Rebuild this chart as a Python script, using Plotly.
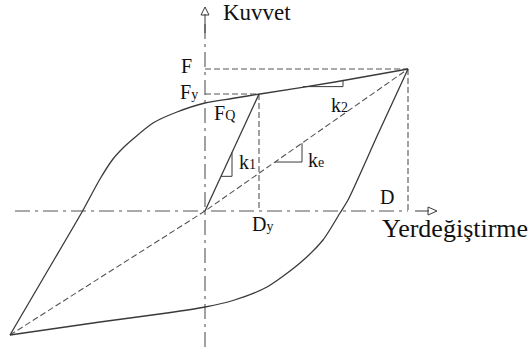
import plotly.graph_objects as go

# ---- values (displacement, force; origin at axes crossing) ----
D_max, F_max = 203, 142          # peak point (D, F)
D_y, F_y = 54, 117               # yield point (Dy, Fy)
F_Q = 108                        # characteristic strength (intercept)
D_min, F_min = -195, -124        # opposite peak

upper_x = [-195, -159, -123, -105, -92, -82, -72, -52, -28, 0, 27, 55, 130, 203]
upper_y = [-124, -62.5, -1, 32, 52, 63, 72, 88, 99, 108, 112.5, 117, 129, 142]

lower_x = [203, 173, 143, 135, 118, 95, 62, 28, 0, -38, -105, -195]
lower_y = [142, 77, 11, -2, -29, -52, -76, -89.5, -96, -102, -111, -124]

elastic_x = [0, D_y]
elastic_y = [0, F_y]

secant_x = [D_min, 0, D_max]
secant_y = [F_min, 0, F_max]

# axis extents
x_axis = [-190, D_max]
y_axis = [-136, 191]

LINE = "#3a3a3a"
DASH_C = "#555555"
TXT = "#111111"
FONT = "Liberation Serif"

fig = go.Figure()

# axes (dash-dot)
fig.add_trace(go.Scatter(x=x_axis, y=[0, 0], mode="lines",
                         line=dict(color=DASH_C, width=1.1, dash="15px,5px,3px,5px")))
fig.add_trace(go.Scatter(x=[0, 0], y=y_axis, mode="lines",
                         line=dict(color=DASH_C, width=1.1, dash="15px,5px,3px,5px")))

# dashed guide lines
dash_style = dict(color=DASH_C, width=1.1, dash="6px,3px")
fig.add_trace(go.Scatter(x=[0, D_max], y=[F_max, F_max], mode="lines", line=dash_style))
fig.add_trace(go.Scatter(x=[D_max, D_max], y=[F_max, 0], mode="lines", line=dash_style))
fig.add_trace(go.Scatter(x=[0, D_y], y=[F_y, F_y], mode="lines", line=dash_style))
fig.add_trace(go.Scatter(x=[D_y, D_y], y=[F_y, 0], mode="lines", line=dash_style))
fig.add_trace(go.Scatter(x=secant_x, y=secant_y, mode="lines", line=dash_style))

# hysteresis loop
fig.add_trace(go.Scatter(x=upper_x, y=upper_y, mode="lines", line_shape="spline",
                         line=dict(color=LINE, width=1.3, smoothing=0.7)))
fig.add_trace(go.Scatter(x=lower_x, y=lower_y, mode="lines", line_shape="spline",
                         line=dict(color=LINE, width=1.3, smoothing=0.7)))
# elastic branch k1
fig.add_trace(go.Scatter(x=elastic_x, y=elastic_y, mode="lines",
                         line=dict(color=LINE, width=1.3)))

shapes = []
# slope triangles (built from the line slopes)
def tri(x1, x2, slope, x_at, y_at):
    ya = y_at + slope * (x1 - x_at)
    yb = y_at + slope * (x2 - x_at)
    return dict(type="path", path=f"M{x1},{ya} L{x2},{ya} L{x2},{yb}",
                line=dict(color=LINE, width=1), xref="x", yref="y")

k1 = F_y / D_y
ke = F_max / D_max
k2 = (F_max - F_y) / (D_max - D_y)
shapes.append(tri(16, 27, k1, 0, 0))
shapes.append(tri(70, 97, ke, 0, 0))
shapes.append(tri(98, 138, k2, D_y, F_y))

# arrows (open heads)
ax_end = 232
shapes.append(dict(type="line", x0=210, y0=0, x1=ax_end - 8, y1=0,
                   line=dict(color=LINE, width=1)))
shapes.append(dict(type="path", path=f"M{ax_end-9},-4 L{ax_end},0 L{ax_end-9},4 Z",
                   line=dict(color=LINE, width=1)))
ay_end = 204
shapes.append(dict(type="line", x0=0, y0=178, x1=0, y1=ay_end - 7,
                   line=dict(color=LINE, width=1)))
shapes.append(dict(type="path", path=f"M-4,{ay_end-8} L0,{ay_end} L4,{ay_end-8} Z",
                   line=dict(color=LINE, width=1)))

ann = []
def label(text, x, y, size=20, xanchor="center"):
    ann.append(dict(text=text, x=x, y=y, xref="x", yref="y", showarrow=False,
                    xanchor=xanchor, yanchor="middle",
                    font=dict(family=FONT, size=size, color=TXT)))

def sub(s):
    return f"<span style='font-size:14px'>{s}</span>"

label("Kuvvet", 16, 199, size=23, xanchor="left")
label("F", -19, F_max + 3)
label("F" + sub("y"), -16, F_y + 2)
label("F" + sub("Q"), 19, F_Q - 10)
label("k" + sub("1"), 42, 49)
label("k" + sub("e"), 111, 51)
label("k" + sub("2"), 134, 106)
label("D" + sub("y"), 57, -13)
label("D", 182, 14)
label("Yerdeğiştirme", 175, -17, size=26, xanchor="left")

fig.update_layout(
    width=531, height=347, margin=dict(l=0, r=0, t=0, b=0),
    paper_bgcolor="white", plot_bgcolor="white", showlegend=False,
    font=dict(family=FONT),
    xaxis=dict(range=[-205, 326], visible=False),
    yaxis=dict(range=[-136, 211], visible=False),
    shapes=shapes, annotations=ann,
)

fig.write_html("out.html", config={"displayModeBar": False},
               post_script="document.body.style.margin='0';document.body.style.overflow='hidden';")
